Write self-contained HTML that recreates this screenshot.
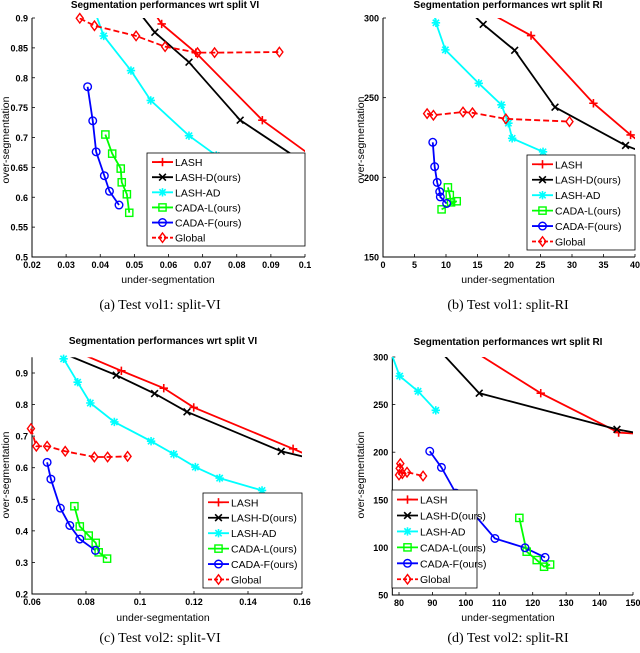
<!DOCTYPE html>
<html><head><meta charset="utf-8">
<style>
html,body{margin:0;padding:0;background:#fff;}
svg{display:block;font-family:"Liberation Sans",sans-serif;}
.tick{font-size:9px;font-weight:bold;fill:#000;}
.title{font-size:10px;fill:#000;font-weight:600;}
.lab{font-size:10.5px;fill:#000;}
.cap{font-family:"Liberation Serif",serif;font-size:14px;fill:#000;}
.leg{font-size:10.5px;fill:#000;}
</style></head>
<body>
<svg id="fig" width="640" height="653" viewBox="0 0 640 653"></svg>
<script>
// ---------- Panel (a) data: Test vol1 split-VI ----------
const aXTicks = [0.02,0.03,0.04,0.05,0.06,0.07,0.08,0.09,0.1];
const aXTickLabels = ["0.02","0.03","0.04","0.05","0.06","0.07","0.08","0.09","0.1"];
const aYTicks = [0.5,0.55,0.6,0.65,0.7,0.75,0.8,0.85,0.9];
const aYTickLabels = ["0.5","0.55","0.6","0.65","0.7","0.75","0.8","0.85","0.9"];
const aLASH_x = [0.0545,0.058,0.068,0.0875,0.1005,0.104];
const aLASH_y = [0.92,0.89,0.842,0.729,0.675,0.66];
const aLASHD_x = [0.052,0.056,0.066,0.081,0.1005,0.105];
const aLASHD_y = [0.905,0.876,0.826,0.729,0.655,0.637];
const aLASHAD_x = [0.039,0.041,0.049,0.0548,0.066,0.074,0.081,0.0865,0.0965];
const aLASHAD_y = [0.902,0.87,0.812,0.762,0.703,0.67,0.64,0.62,0.595];
const aCADAL_x = [0.0415,0.0435,0.046,0.0463,0.0478,0.0485];
const aCADAL_y = [0.705,0.673,0.648,0.625,0.605,0.574];
const aCADAF_x = [0.0363,0.0378,0.0388,0.0412,0.0427,0.0455];
const aCADAF_y = [0.785,0.728,0.676,0.636,0.61,0.587];
const aGlobal_x = [0.034,0.0383,0.0505,0.059,0.0685,0.0735,0.0925];
const aGlobal_y = [0.8995,0.887,0.87,0.852,0.842,0.842,0.843];

// ---------- Panel (b) data: Test vol1 split-RI ----------
const bXTicks = [0,5,10,15,20,25,30,35,40];
const bXTickLabels = ["0","5","10","15","20","25","30","35","40"];
const bYTicks = [150,200,250,300];
const bYTickLabels = ["150","200","250","300"];
const bLASH_x = [17,23.5,33.4,39.3,40.5];
const bLASH_y = [303,289,246.5,226.6,223];
const bLASHD_x = [14.6,15.9,20.9,27.3,38.5,40.5];
const bLASHD_y = [301,296,279.7,244,220,217];
const bLASHAD_x = [8.2,8.4,9.9,15.2,18.8,19.9,20.5,25.4];
const bLASHAD_y = [301,297,280,259,245.5,234,224.5,216];
const bCADAL_x = [10.3,10.6,10.8,11.7,9.3];
const bCADAL_y = [193.7,188.9,184.3,185,179.9];
const bCADAF_x = [7.9,8.2,8.6,9.0,9.1,10.1];
const bCADAF_y = [222,206.7,196.8,191,187.7,183.6];
const bGlobal_x = [7,8,12.7,14.2,19.5,29.6];
const bGlobal_y = [240,239,241,240.5,236.7,235];

// ---------- Panel (c) data: Test vol2 split-VI ----------
const cXTicks = [0.06,0.08,0.1,0.12,0.14,0.16];
const cXTickLabels = ["0.06","0.08","0.1","0.12","0.14","0.16"];
const cYTicks = [0.2,0.3,0.4,0.5,0.6,0.7,0.8,0.9];
const cYTickLabels = ["0.2","0.3","0.4","0.5","0.6","0.7","0.8","0.9"];
const cLASH_x = [0.0804,0.0931,0.1088,0.1199,0.1567,0.1605];
const cLASH_y = [0.953,0.907,0.852,0.791,0.66,0.646];
const cLASHD_x = [0.0742,0.0912,0.1054,0.1174,0.1523,0.1605];
const cLASHD_y = [0.953,0.893,0.835,0.777,0.652,0.635];
const cLASHAD_x = [0.0717,0.0769,0.0816,0.0905,0.1041,0.1125,0.1205,0.1295,0.1452];
const cLASHAD_y = [0.945,0.871,0.805,0.745,0.684,0.643,0.602,0.567,0.528];
const cCADAL_x = [0.0757,0.0777,0.081,0.0836,0.0847,0.0878];
const cCADAL_y = [0.478,0.414,0.385,0.362,0.332,0.312];
const cCADAF_x = [0.0656,0.067,0.0705,0.074,0.0777,0.0835];
const cCADAF_y = [0.617,0.564,0.472,0.417,0.374,0.338];
const cGlobal_x = [0.0596,0.0616,0.0656,0.0723,0.0831,0.088,0.0954];
const cGlobal_y = [0.724,0.668,0.668,0.652,0.634,0.634,0.636];

// ---------- Panel (d) data: Test vol2 split-RI ----------
const dXTicks = [80,90,100,110,120,130,140,150];
const dXTickLabels = ["80","90","100","110","120","130","140","150"];
const dYTicks = [50,100,150,200,250,300];
const dYTickLabels = ["50","100","150","200","250","300"];
const dLASH_x = [104.7,122.4,145.7,150.5];
const dLASH_y = [301,262,220.6,219.6];
const dLASHD_x = [93.7,104,145.2,150.5];
const dLASHD_y = [301,262,224,220.6];
const dLASHAD_x = [78,80.2,85.7,91];
const dLASHAD_y = [301,280,264,244];
const dCADAL_x = [116,118.2,121.2,123.4,125.2];
const dCADAL_y = [131,95.5,86.7,79.7,82];
const dCADAF_x = [89.2,92.7,97,108.7,117.7,123.7];
const dCADAF_y = [201,184,157,109.4,99.6,89.5];
const dGlobal_x = [80,80.2,80.4,81,82.4,87.2];
const dGlobal_y = [176,183,188,177.5,179,175];

const NS = "http://www.w3.org/2000/svg";
const svg = document.getElementById('fig');
function mk(tag, attrs, parent){
  const e = document.createElementNS(NS, tag);
  for (const k in attrs) e.setAttribute(k, attrs[k]);
  (parent||svg).appendChild(e);
  return e;
}
const styles = {
  LASH:{color:'#ff0000',marker:'plus',dash:null},
  LASHD:{color:'#000000',marker:'x',dash:null},
  LASHAD:{color:'#00ffff',marker:'star',dash:null},
  CADAL:{color:'#00ff00',marker:'square',dash:null},
  CADAF:{color:'#0000ff',marker:'circle',dash:null},
  Global:{color:'#ff0000',marker:'diamond',dash:'6,3'}
};
const legendNames = ["LASH","LASH-D(ours)","LASH-AD","CADA-L(ours)","CADA-F(ours)","Global"];
const legendKeys = ["LASH","LASHD","LASHAD","CADAL","CADAF","Global"];

function marker(g, type, cx, cy, color){
  const r = 4.2;
  let m;
  if (type==='plus'){
    m = mk('path',{d:`M${cx-r} ${cy}H${cx+r}M${cx} ${cy-r}V${cy+r}`,stroke:color,'stroke-width':1.6,fill:'none'},g);
  } else if (type==='x'){
    const q=r*0.8;
    m = mk('path',{d:`M${cx-q} ${cy-q}L${cx+q} ${cy+q}M${cx-q} ${cy+q}L${cx+q} ${cy-q}`,stroke:color,'stroke-width':1.6,fill:'none'},g);
  } else if (type==='star'){
    const q=r*0.75;
    m = mk('path',{d:`M${cx-r} ${cy}H${cx+r}M${cx} ${cy-r}V${cy+r}M${cx-q} ${cy-q}L${cx+q} ${cy+q}M${cx-q} ${cy+q}L${cx+q} ${cy-q}`,stroke:color,'stroke-width':1.6,fill:'none'},g);
  } else if (type==='square'){
    m = mk('rect',{x:cx-3.6,y:cy-3.6,width:7.2,height:7.2,stroke:color,'stroke-width':1.4,fill:'none'},g);
  } else if (type==='circle'){
    m = mk('circle',{cx:cx,cy:cy,r:3.8,stroke:color,'stroke-width':1.4,fill:'none'},g);
  } else {
    m = mk('path',{d:`M${cx} ${cy-r-0.5}L${cx+3.5} ${cy}L${cx} ${cy+r+0.5}L${cx-3.5} ${cy}Z`,stroke:color,'stroke-width':1.4,fill:'none'},g);
  }
  return m;
}

function panel(cfg){
  const g = mk('g',{});
  
  
  const sx = v => cfg.px0 + (v-cfg.x0)/(cfg.x1-cfg.x0)*(cfg.px1-cfg.px0);
  const sy = v => cfg.py0 + (v-cfg.y0)/(cfg.y1-cfg.y0)*(cfg.py1-cfg.py0);
  const left = sx(cfg.xmin), right = sx(cfg.xmax), bottom = sy(cfg.ymin), top = sy(cfg.ymax);
  const cid = 'clip-'+cfg.id;
  const cp = mk('clipPath',{id:cid},g);
  mk('rect',{x:left-5,y:top,width:right-left+5,height:bottom-top+5},cp);
  const t = mk('text',{x:cfg.tx,y:cfg.ty,'text-anchor':'middle',class:'title'},g);
  t.textContent = 'Segmentation performances wrt split '+cfg.split;
  
  
  const ax = mk('path',{d:`M${left} ${top}V${bottom}H${right}`,stroke:'#000','stroke-width':1,fill:'none'},g);
  
  
  cfg.xt.forEach((v,i)=>{
    const x = sx(v);
    mk('line',{x1:x,y1:bottom,x2:x,y2:bottom-3,stroke:'#000','stroke-width':0.8},g);
    const tl = mk('text',{x:x,y:bottom+11,'text-anchor':'middle',class:'tick'},g);
    tl.textContent = cfg.xtl[i];
    
    
  });
  cfg.yt.forEach((v,i)=>{
    const y = sy(v);
    mk('line',{x1:left,y1:y,x2:left+3,y2:y,stroke:'#000','stroke-width':0.8},g);
    const tl = mk('text',{x:left-4,y:y+3.5,'text-anchor':'end',class:'tick'},g);
    tl.textContent = cfg.ytl[i];
    
    
  });
  const xl = mk('text',{x:cfg.xlx,y:cfg.xly,'text-anchor':'middle',class:'lab'},g);
  xl.textContent = 'under-segmentation';
  
  
  const yl = mk('text',{x:0,y:0,'text-anchor':'middle',class:'lab',transform:`translate(${cfg.ylx},${cfg.yly}) rotate(-90)`},g);
  yl.textContent = 'over-segmentation';
  
  
  const pg = mk('g',{'clip-path':`url(#${cid})`},g);
  const mg = mk('g',{},g);
  cfg.series.forEach(s=>{
    const st = styles[s.key];
    const sg = mk('g',{},pg);
    
    
    const pts = s.xs.map((x,i)=>sx(x)+','+sy(s.ys[i])).join(' ');
    const pl = mk('polyline',{points:pts,stroke:st.color,'stroke-width':1.8,fill:'none'},sg);
    if (st.dash) pl.setAttribute('stroke-dasharray', st.dash);
    s.xs.forEach((x,i)=>{
      const y = s.ys[i];
      if (!(y < cfg.ymax && x < cfg.xmax)) return;
      const m = marker(mg, st.marker, sx(x), sy(y), st.color);
      
      
    });
  });
  const lg = mk('g',{},g);
  
  
  mk('rect',{x:cfg.lx,y:cfg.ly,width:cfg.lw,height:cfg.lh,fill:'#fff',stroke:'#000','stroke-width':0.8},lg);
  const rowH = cfg.lh/6.15;
  legendKeys.forEach((k,i)=>{
    const st = styles[k];
    const y = cfg.ly + rowH*(i+0.6);
    const eg = mk('g',{},lg);
    
    
    const ln = mk('line',{x1:cfg.lx+5,y1:y,x2:cfg.lx+26,y2:y,stroke:st.color,'stroke-width':1.8},eg);
    if (st.dash) ln.setAttribute('stroke-dasharray','4,2');
    marker(eg, st.marker, cfg.lx+15.5, y, st.color);
    const tx = mk('text',{x:cfg.lx+28,y:y+4,class:'leg'},eg);
    tx.textContent = legendNames[i];
  });
  const c = mk('text',{x:cfg.cx,y:cfg.cy,'text-anchor':'middle',class:'cap'},g);
  c.textContent = cfg.cap;
  
  
}

panel({id:'a',split:'VI',x0:0.02,x1:0.1,px0:32,px1:305,y0:0.5,y1:0.9,py0:257,py1:18,
  xmin:0.02,xmax:0.1,ymin:0.5,ymax:0.9,xt:aXTicks,xtl:aXTickLabels,yt:aYTicks,ytl:aYTickLabels,
  tx:165,ty:8,xlx:168,xly:283,ylx:9,yly:140,lx:147,ly:153,lw:158,lh:93,cx:160,cy:309,cap:'(a)  Test vol1:  split-VI',
  series:[{key:'LASH',xs:aLASH_x,ys:aLASH_y},{key:'LASHD',xs:aLASHD_x,ys:aLASHD_y},{key:'LASHAD',xs:aLASHAD_x,ys:aLASHAD_y},
    {key:'CADAL',xs:aCADAL_x,ys:aCADAL_y},{key:'CADAF',xs:aCADAF_x,ys:aCADAF_y},{key:'Global',xs:aGlobal_x,ys:aGlobal_y}]});
panel({id:'b',split:'RI',x0:0,x1:40,px0:383,px1:635,y0:150,y1:300,py0:257,py1:18,
  xmin:0,xmax:40,ymin:150,ymax:300,xt:bXTicks,xtl:bXTickLabels,yt:bYTicks,ytl:bYTickLabels,
  tx:508,ty:8,xlx:508,xly:283,ylx:364,yly:140,lx:527,ly:155,lw:108,lh:95,cx:508,cy:309,cap:'(b)  Test vol1:  split-RI',
  series:[{key:'LASH',xs:bLASH_x,ys:bLASH_y},{key:'LASHD',xs:bLASHD_x,ys:bLASHD_y},{key:'LASHAD',xs:bLASHAD_x,ys:bLASHAD_y},
    {key:'CADAL',xs:bCADAL_x,ys:bCADAL_y},{key:'CADAF',xs:bCADAF_x,ys:bCADAF_y},{key:'Global',xs:bGlobal_x,ys:bGlobal_y}]});
panel({id:'c',split:'VI',x0:0.06,x1:0.16,px0:32,px1:302,y0:0.2,y1:0.9,py0:594,py1:373,
  xmin:0.06,xmax:0.16,ymin:0.2,ymax:0.95,xt:cXTicks,xtl:cXTickLabels,yt:cYTicks,ytl:cYTickLabels,
  tx:163,ty:344,xlx:163,xly:621,ylx:9,yly:475,lx:203,ly:493,lw:99,lh:95,cx:160,cy:642,cap:'(c)  Test vol2:  split-VI',
  series:[{key:'LASH',xs:cLASH_x,ys:cLASH_y},{key:'LASHD',xs:cLASHD_x,ys:cLASHD_y},{key:'LASHAD',xs:cLASHAD_x,ys:cLASHAD_y},
    {key:'CADAL',xs:cCADAL_x,ys:cCADAL_y},{key:'CADAF',xs:cCADAF_x,ys:cCADAF_y},{key:'Global',xs:cGlobal_x,ys:cGlobal_y}]});
panel({id:'d',split:'RI',x0:80,x1:150,px0:399,px1:633,y0:50,y1:300,py0:595,py1:357,
  xmin:78,xmax:150,ymin:50,ymax:300,xt:dXTicks,xtl:dXTickLabels,yt:dYTicks,ytl:dYTickLabels,
  tx:508,ty:345,xlx:508,xly:621,ylx:364,yly:475,lx:392,ly:490,lw:85,lh:98,cx:508,cy:642,cap:'(d)  Test vol2:  split-RI',
  series:[{key:'LASH',xs:dLASH_x,ys:dLASH_y},{key:'LASHD',xs:dLASHD_x,ys:dLASHD_y},{key:'LASHAD',xs:dLASHAD_x,ys:dLASHAD_y},
    {key:'CADAL',xs:dCADAL_x,ys:dCADAL_y},{key:'CADAF',xs:dCADAF_x,ys:dCADAF_y},{key:'Global',xs:dGlobal_x,ys:dGlobal_y}]});
</script>
</body></html>
